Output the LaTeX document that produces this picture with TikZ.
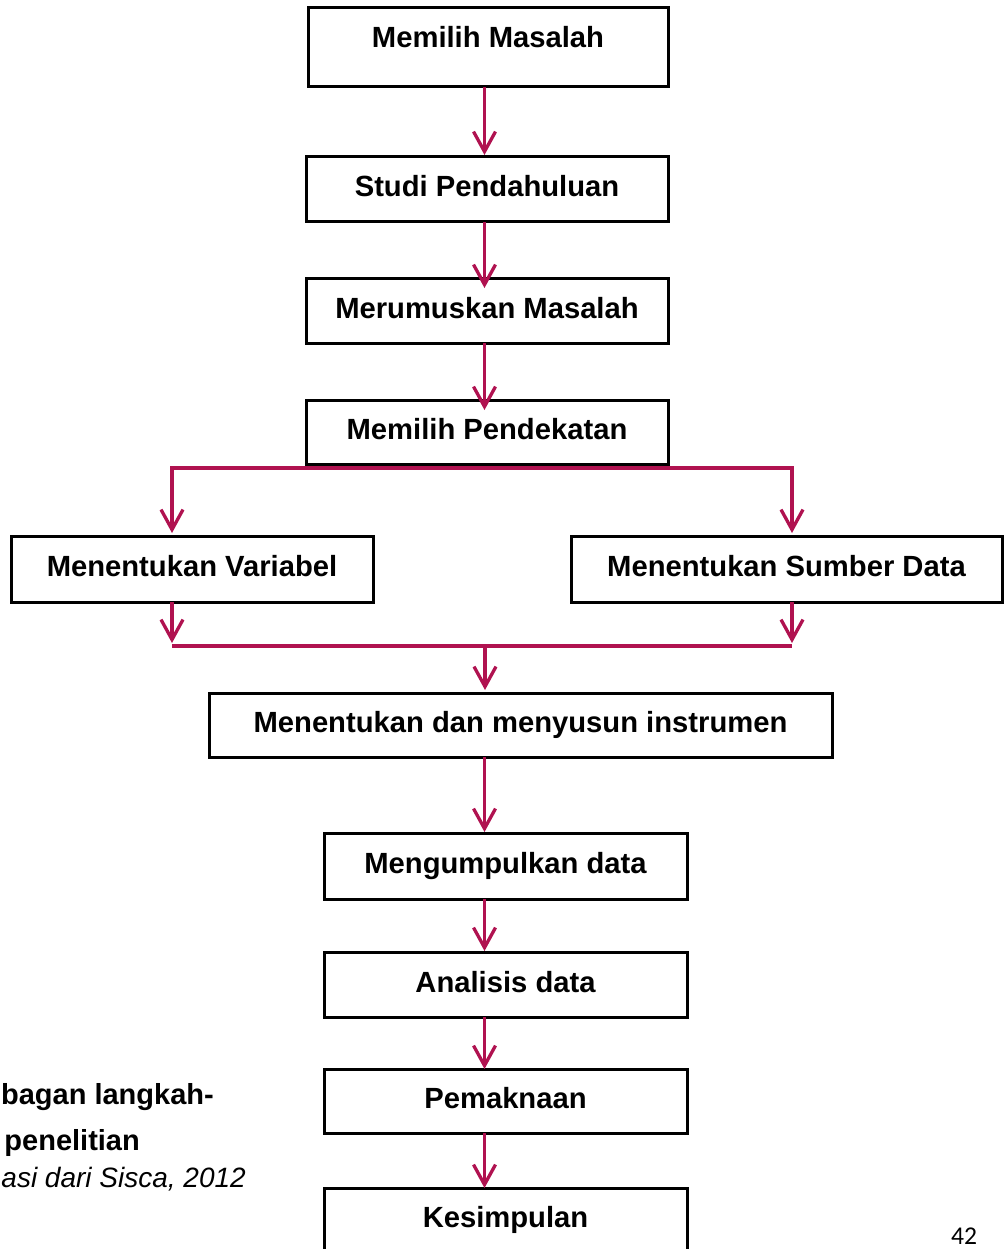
\documentclass[tikz,border=0pt]{standalone}
\usepackage{fontspec}
\setmainfont{Liberation Sans}
\newfontfamily\pgnumfont{Carlito}
\usetikzlibrary{arrows.meta,calc}
\definecolor{arrowred}{RGB}{176,18,80}
\begin{document}
\begin{tikzpicture}[x=1pt,y=-1pt,
  stepbox/.style={draw=black,line width=3pt,inner sep=0pt,outer sep=0pt,
    font=\bfseries\fontsize{29.2}{34}\selectfont,text height=21pt,text depth=6pt},
  tipA/.tip={Straight Barb[length=20pt,width=22pt]},
  arr/.style={draw=arrowred,line width=3.3pt,-tipA},
  bar/.style={draw=arrowred,line width=3.3pt},
  capt/.style={font=\bfseries\fontsize{29}{34}\selectfont,inner sep=0pt},
]
\useasboundingbox (0,0) rectangle (1004,1249);
\clip (0,0) rectangle (1004,1249);

% boxes
\node[stepbox,minimum width=360pt,minimum height=79pt,text depth=21pt] (b1) at (488,47.5) {Memilih Masalah};
\node[stepbox,minimum width=362pt,minimum height=65pt] (b2) at (487,189.5) {Studi Pendahuluan};
\node[stepbox,minimum width=362pt,minimum height=65pt] (b3) at (487,310.5) {Merumuskan Masalah};
\node[stepbox,minimum width=362pt,minimum height=64pt] (b4) at (487,432) {Memilih Pendekatan};
\node[stepbox,minimum width=362pt,minimum height=66pt] (b5) at (192,569) {Menentukan Variabel};
\node[stepbox,minimum width=431pt,minimum height=66pt] (b6) at (786.5,569) {Menentukan Sumber Data};
\node[stepbox,minimum width=623pt,minimum height=64pt] (b7) at (520.5,725) {Menentukan dan menyusun instrumen};
\node[stepbox,minimum width=363pt,minimum height=66pt] (b8) at (505.5,866) {Mengumpulkan data};
\node[stepbox,minimum width=363pt,minimum height=65pt] (b9) at (505.5,984.5) {Analisis data};
\node[stepbox,minimum width=363pt,minimum height=64pt] (b10) at (505.5,1101) {Pemaknaan};
\node[stepbox,minimum width=363pt,minimum height=64pt] (b11) at (505.5,1220) {Kesimpulan};

% helper coordinates
\coordinate (ax) at (484.5,0);
\coordinate (fl) at (172,468);
\coordinate (fr) at (792,468);
\coordinate (jl) at (172,646);
\coordinate (jr) at (792,646);
\coordinate (jm) at (485,646);

% connectors
\draw[arr] (b1.south -| ax) -- ($(b2.north -| ax)+(0,-2)$);
\draw[arr] (b2.south -| ax) -- ($(b3.north -| ax)+(0,10)$);
\draw[arr] (b3.south -| ax) -- ($(b4.north -| ax)+(0,10)$);
\draw[bar,tipA-tipA] ($(b5.north -| fl)+(0,-3)$) -- (fl) -- (fr) -- ($(b6.north -| fr)+(0,-3)$);
\draw[arr] (b5.south -| jl) -- ($(jl)+(0,-3)$);
\draw[arr] (b6.south -| jr) -- ($(jr)+(0,-3)$);
\draw[bar,line width=4.5pt] (jl) -- (jr);
\draw[arr] (jm) -- ($(b7.north -| jm)+(0,-3)$);
\draw[arr] (b7.south -| ax) -- ($(b8.north -| ax)+(0,-1)$);
\draw[arr] (b8.south -| ax) -- ($(b9.north -| ax)+(0,-1)$);
\draw[arr] (b9.south -| ax) -- (b10.north -| ax);
\draw[arr] (b10.south -| ax) -- (b11.north -| ax);

% caption fragments
\node[capt,anchor=base east] (cap1) at (214,1104) {bagan langkah-};
\node[capt,anchor=base east] (cap2) at (140,1150) {penelitian};
\node[font=\itshape\fontsize{28}{34}\selectfont,inner sep=0pt,anchor=base east] (cap3) at (246,1187) {asi dari Sisca, 2012};

% page number
\node[font=\pgnumfont\fontsize{25.6}{30}\selectfont,inner sep=0pt,anchor=base west] (pg) at (951,1244) {42};
\end{tikzpicture}
\end{document}
